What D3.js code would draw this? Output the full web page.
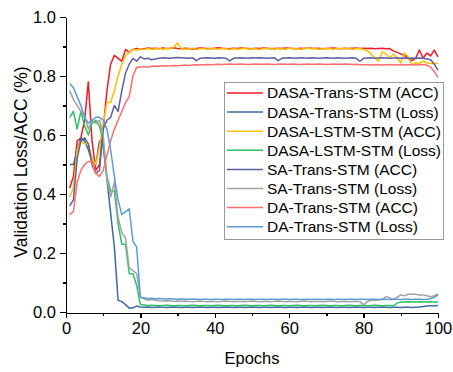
<!DOCTYPE html>
<html>
<head>
<meta charset="utf-8">
<title>Validation Loss/ACC</title>
<script src="https://cdn.jsdelivr.net/npm/d3@7"></script>
<style>
    body { margin: 0; background: #fff; }
    svg { font-family: "Liberation Sans", Arial, sans-serif; }
    .axis path, .axis line { stroke: #000; stroke-width: 1.3; shape-rendering: crispEdges; }
    .axis text { font-size: 16.5px; fill: #000; }
</style>
</head>
<body>
<script>
// epochs 1..100
var epochs = d3.range(1, 101);

var dasaTransAcc = [
    0.42, 0.46, 0.58, 0.59, 0.65, 0.78, 0.58, 0.48, 0.50, 0.62,
    0.75, 0.84, 0.87, 0.86, 0.85, 0.89, 0.88, 0.89, 0.893, 0.89,
    0.892, 0.895, 0.893, 0.894, 0.892, 0.895, 0.893, 0.894, 0.896, 0.893,
    0.892, 0.894, 0.893, 0.891, 0.893, 0.895, 0.894, 0.893, 0.892, 0.894,
    0.896, 0.894, 0.893, 0.892, 0.894, 0.893, 0.895, 0.894, 0.893, 0.892,
    0.894, 0.893, 0.895, 0.894, 0.892, 0.893, 0.894, 0.893, 0.895, 0.894,
    0.893, 0.892, 0.894, 0.893, 0.895, 0.894, 0.893, 0.894, 0.892, 0.893,
    0.894, 0.895, 0.893, 0.892, 0.894, 0.893, 0.894, 0.895, 0.893, 0.894,
    0.893, 0.894, 0.892, 0.893, 0.894, 0.892, 0.893, 0.885, 0.880, 0.875,
    0.870, 0.860, 0.852, 0.860, 0.888, 0.860, 0.878, 0.868, 0.888, 0.865
];
var dasaTransLoss = [
    0.50, 0.50, 0.55, 0.59, 0.58, 0.55, 0.51, 0.50, 0.58, 0.56,
    0.45, 0.335, 0.22, 0.04, 0.035, 0.025, 0.013, 0.014, 0.020, 0.017,
    0.016, 0.017, 0.015, 0.016, 0.018, 0.016, 0.015, 0.016, 0.017, 0.016,
    0.015, 0.016, 0.016, 0.015, 0.016, 0.017, 0.016, 0.015, 0.016, 0.016,
    0.015, 0.016, 0.017, 0.016, 0.015, 0.016, 0.016, 0.015, 0.016, 0.017,
    0.016, 0.015, 0.016, 0.016, 0.015, 0.016, 0.017, 0.016, 0.015, 0.016,
    0.016, 0.015, 0.016, 0.017, 0.016, 0.015, 0.016, 0.016, 0.015, 0.016,
    0.017, 0.016, 0.015, 0.016, 0.016, 0.015, 0.016, 0.017, 0.016, 0.015,
    0.016, 0.016, 0.015, 0.016, 0.017, 0.016, 0.015, 0.016, 0.016, 0.015,
    0.016, 0.016, 0.015, 0.016, 0.017, 0.019, 0.020, 0.021, 0.021, 0.022
];
var dasaLstmAcc = [
    0.39, 0.42, 0.55, 0.58, 0.57, 0.57, 0.52, 0.50, 0.56, 0.64,
    0.71, 0.71, 0.75, 0.80, 0.84, 0.87, 0.88, 0.89, 0.888, 0.892,
    0.890, 0.893, 0.891, 0.892, 0.894, 0.891, 0.893, 0.892, 0.898, 0.912,
    0.893, 0.891, 0.892, 0.894, 0.890, 0.892, 0.893, 0.891, 0.894, 0.892,
    0.891, 0.893, 0.892, 0.890, 0.893, 0.891, 0.892, 0.894, 0.891, 0.893,
    0.892, 0.890, 0.893, 0.892, 0.894, 0.891, 0.893, 0.892, 0.891, 0.894,
    0.892, 0.893, 0.891, 0.892, 0.895, 0.892, 0.893, 0.891, 0.892, 0.893,
    0.892, 0.891, 0.893, 0.892, 0.894, 0.893, 0.891, 0.892, 0.893, 0.890,
    0.885, 0.875, 0.862, 0.850, 0.882, 0.875, 0.860, 0.875, 0.860, 0.845,
    0.878, 0.865, 0.838, 0.845, 0.842, 0.850, 0.845, 0.842, 0.843, 0.842
];
var dasaLstmLoss = [
    0.66, 0.68, 0.62, 0.68, 0.63, 0.60, 0.64, 0.65, 0.63, 0.58,
    0.46, 0.41, 0.41, 0.30, 0.23, 0.23, 0.13, 0.13, 0.09, 0.025,
    0.024, 0.022, 0.023, 0.022, 0.021, 0.022, 0.023, 0.022, 0.021, 0.022,
    0.022, 0.021, 0.022, 0.023, 0.022, 0.021, 0.022, 0.022, 0.021, 0.022,
    0.023, 0.022, 0.021, 0.022, 0.022, 0.021, 0.022, 0.023, 0.022, 0.021,
    0.022, 0.022, 0.021, 0.022, 0.023, 0.022, 0.021, 0.022, 0.022, 0.021,
    0.022, 0.023, 0.022, 0.021, 0.022, 0.022, 0.021, 0.022, 0.023, 0.022,
    0.021, 0.022, 0.022, 0.021, 0.022, 0.023, 0.022, 0.021, 0.022, 0.022,
    0.021, 0.022, 0.023, 0.022, 0.021, 0.022, 0.022, 0.021, 0.030, 0.034,
    0.034, 0.035, 0.034, 0.034, 0.035, 0.034, 0.034, 0.035, 0.034, 0.034
];
var saTransAcc = [
    0.36, 0.38, 0.52, 0.58, 0.59, 0.57, 0.50, 0.47, 0.48, 0.62,
    0.65, 0.66, 0.70, 0.68, 0.75, 0.81, 0.84, 0.86, 0.85, 0.865,
    0.858, 0.860, 0.855, 0.858, 0.860, 0.862, 0.861, 0.860, 0.862, 0.863,
    0.862, 0.861, 0.860, 0.862, 0.852, 0.860, 0.861, 0.862, 0.861, 0.860,
    0.862, 0.861, 0.860, 0.851, 0.860, 0.861, 0.862, 0.861, 0.860, 0.862,
    0.861, 0.862, 0.861, 0.860, 0.861, 0.862, 0.852, 0.860, 0.861, 0.862,
    0.861, 0.860, 0.862, 0.861, 0.860, 0.862, 0.861, 0.860, 0.861, 0.862,
    0.861, 0.860, 0.862, 0.861, 0.860, 0.861, 0.862, 0.860, 0.850, 0.860,
    0.861, 0.862, 0.860, 0.861, 0.862, 0.861, 0.860, 0.861, 0.862, 0.860,
    0.861, 0.860, 0.861, 0.860, 0.861, 0.860, 0.858, 0.855, 0.840, 0.820
];
var saTransLoss = [
    0.75, 0.72, 0.70, 0.68, 0.66, 0.62, 0.65, 0.64, 0.65, 0.60,
    0.45, 0.39, 0.44, 0.32, 0.27, 0.25, 0.15, 0.14, 0.13, 0.05,
    0.045, 0.040, 0.042, 0.040, 0.038, 0.037, 0.038, 0.037, 0.036, 0.037,
    0.036, 0.037, 0.036, 0.035, 0.036, 0.037, 0.036, 0.035, 0.036, 0.036,
    0.035, 0.036, 0.037, 0.036, 0.035, 0.036, 0.036, 0.035, 0.036, 0.037,
    0.036, 0.035, 0.036, 0.036, 0.035, 0.036, 0.037, 0.036, 0.035, 0.036,
    0.036, 0.035, 0.036, 0.037, 0.036, 0.035, 0.036, 0.036, 0.035, 0.036,
    0.037, 0.036, 0.035, 0.036, 0.036, 0.035, 0.036, 0.036, 0.035, 0.024,
    0.035, 0.040, 0.040, 0.041, 0.042, 0.052, 0.048, 0.042, 0.050, 0.058,
    0.055, 0.060, 0.060, 0.060, 0.058, 0.058, 0.055, 0.052, 0.055, 0.060
];
var daTransAcc = [
    0.33, 0.34, 0.44, 0.48, 0.50, 0.51, 0.51, 0.47, 0.46, 0.48,
    0.53, 0.58, 0.62, 0.65, 0.68, 0.71, 0.73, 0.80, 0.83, 0.83,
    0.832, 0.830, 0.833, 0.834, 0.833, 0.835, 0.834, 0.835, 0.836, 0.835,
    0.836, 0.837, 0.836, 0.837, 0.838, 0.837, 0.838, 0.839, 0.838, 0.839,
    0.840, 0.839, 0.840, 0.841, 0.840, 0.840, 0.841, 0.840, 0.839, 0.840,
    0.841, 0.840, 0.840, 0.841, 0.840, 0.839, 0.840, 0.841, 0.840, 0.840,
    0.841, 0.840, 0.839, 0.840, 0.841, 0.840, 0.840, 0.841, 0.840, 0.839,
    0.840, 0.841, 0.840, 0.840, 0.841, 0.840, 0.839, 0.840, 0.838, 0.838,
    0.838, 0.837, 0.838, 0.838, 0.837, 0.838, 0.838, 0.837, 0.838, 0.838,
    0.837, 0.838, 0.838, 0.837, 0.838, 0.838, 0.837, 0.830, 0.815, 0.795
];
var daTransLoss = [
    0.775, 0.76, 0.73, 0.70, 0.66, 0.64, 0.65, 0.66, 0.66, 0.65,
    0.62, 0.55, 0.46, 0.38, 0.33, 0.34, 0.35, 0.24, 0.22, 0.05,
    0.048, 0.046, 0.047, 0.045, 0.046, 0.045, 0.044, 0.045, 0.044, 0.043,
    0.044, 0.043, 0.043, 0.044, 0.043, 0.042, 0.043, 0.043, 0.042, 0.043,
    0.043, 0.042, 0.043, 0.043, 0.042, 0.043, 0.043, 0.042, 0.043, 0.043,
    0.042, 0.043, 0.043, 0.042, 0.043, 0.043, 0.042, 0.043, 0.043, 0.042,
    0.043, 0.043, 0.042, 0.043, 0.043, 0.042, 0.043, 0.043, 0.042, 0.043,
    0.043, 0.042, 0.043, 0.043, 0.042, 0.043, 0.043, 0.042, 0.043, 0.043,
    0.042, 0.043, 0.043, 0.042, 0.043, 0.043, 0.042, 0.043, 0.043, 0.042,
    0.043, 0.043, 0.042, 0.043, 0.043, 0.042, 0.043, 0.045, 0.050, 0.058
];

var seriesNames = [
    "DASA-Trans-STM (ACC)", "DASA-Trans-STM (Loss)",
    "DASA-LSTM-STM (ACC)", "DASA-LSTM-STM (Loss)",
    "SA-Trans-STM (ACC)", "SA-Trans-STM (Loss)",
    "DA-Trans-STM (ACC)", "DA-Trans-STM (Loss)"
];
var seriesValues = [dasaTransAcc, dasaTransLoss, dasaLstmAcc, dasaLstmLoss,
                    saTransAcc, saTransLoss, daTransAcc, daTransLoss];
var colors = ["#ec1c24", "#3f6aa2", "#ffc000", "#2fbf64",
              "#5e5f9e", "#a2a2a2", "#ff6e6e", "#5c9bd6"];

var xTicks = [0, 20, 40, 60, 80, 100];
var yTicks = [0.0, 0.2, 0.4, 0.6, 0.8, 1.0];

var width = 453, height = 372;

var svg = d3.select("body").append("svg")
    .attr("width", width)
    .attr("height", height);

var x = d3.scaleLinear().domain([0, 100]).range([66, 438]);
var y = d3.scaleLinear().domain([-0.0034, 1.0]).range([313, 17]);

// minor ticks
svg.append("g")
    .attr("class", "axis")
    .attr("transform", "translate(0," + y.range()[0] + ")")
    .call(d3.axisBottom(x).tickValues([10, 30, 50, 70, 90]).tickSize(3).tickSizeOuter(0).tickFormat(""));
svg.append("g")
    .attr("class", "axis")
    .attr("transform", "translate(" + x(0) + ",0)")
    .call(d3.axisLeft(y).tickValues([0.1, 0.3, 0.5, 0.7, 0.9]).tickSize(3).tickSizeOuter(0).tickFormat(""));

// major ticks
svg.append("g")
    .attr("class", "axis")
    .attr("transform", "translate(0," + y.range()[0] + ")")
    .call(d3.axisBottom(x).tickValues(xTicks).tickSize(5).tickSizeOuter(0).tickPadding(4).tickFormat(d3.format("d")));
svg.append("g")
    .attr("class", "axis")
    .attr("transform", "translate(" + x(0) + ",0)")
    .call(d3.axisLeft(y).tickValues(yTicks).tickSize(6).tickSizeOuter(0).tickPadding(4).tickFormat(d3.format(".1f")));

// axis titles
svg.append("text")
    .attr("x", 252)
    .attr("y", 364)
    .attr("text-anchor", "middle")
    .style("font-size", "16.5px")
    .text("Epochs");
svg.append("text")
    .attr("transform", "translate(27,162) rotate(-90)")
    .attr("text-anchor", "middle")
    .style("font-size", "17.5px")
    .text("Validation Loss/ACC (%)");

// lines
var line = d3.line()
    .x(function (d, i) { return x(epochs[i]); })
    .y(function (d) { return y(d); });

svg.selectAll(".series")
    .data(seriesValues)
    .enter().append("path")
    .attr("class", "series")
    .attr("fill", "none")
    .attr("stroke", function (d, i) { return colors[i]; })
    .attr("stroke-width", 1.5)
    .attr("stroke-linejoin", "round")
    .attr("d", line);

// legend
var legend = svg.append("g").attr("transform", "translate(224,82)");
legend.append("rect")
    .attr("x", 0.5).attr("y", 0.5)
    .attr("width", 219).attr("height", 157)
    .attr("fill", "#fff")
    .attr("stroke", "#9a9a9a");
var item = legend.selectAll(".item")
    .data(seriesNames)
    .enter().append("g")
    .attr("class", "item")
    .attr("transform", function (d, i) { return "translate(0," + (11 + i * 19.1) + ")"; });
item.append("line")
    .attr("x1", 3).attr("x2", 39)
    .attr("stroke", function (d, i) { return colors[i]; })
    .attr("stroke-width", 1.5);
item.append("text")
    .attr("x", 43)
    .attr("dy", "0.35em")
    .style("font-size", "15.5px")
    .text(function (d) { return d; });
</script>
</body>
</html>
